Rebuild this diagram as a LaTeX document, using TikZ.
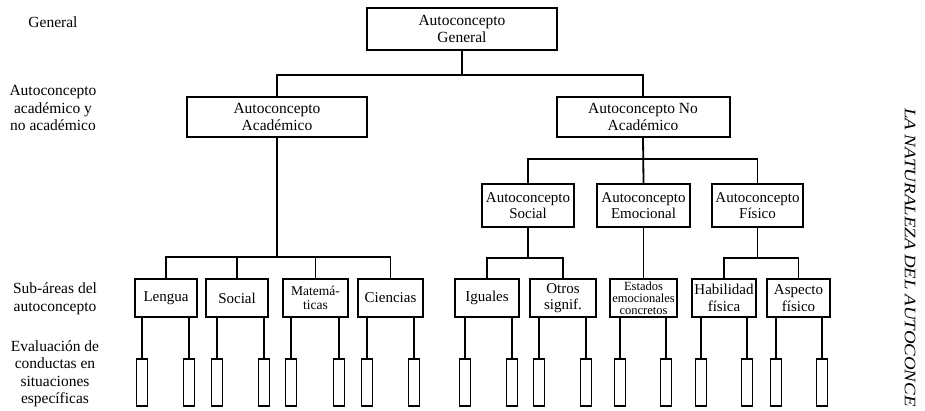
\documentclass[tikz,border=0pt]{standalone}
\usepackage{fontspec}
\setmainfont{Liberation Serif}
\usetikzlibrary{positioning}

\tikzset{
  box/.style={draw, line width=2pt, inner sep=0pt, align=center,
              font=\fontsize{15}{16.5}\selectfont},
  leaf/.style={draw, line width=1.9pt, minimum width=11pt, minimum height=47pt,
               inner sep=0pt, anchor=north},
  lab/.style={align=center, font=\fontsize{15.5}{17.5}\selectfont},
  conn/.style={line width=1.8pt}
}

\begin{document}
\begin{tikzpicture}[x=1pt, y=-1pt]
  \useasboundingbox (0,0) rectangle (925,410);
  % level labels on the left
  \node[lab] (lgen)  at (53,22)  {General};
  \node[lab] (lacad) at (53,108) {Autoconcepto\\académico y\\no académico};
  \node[lab] (lsub)  at (55,299) {Sub-áreas del\\autoconcepto};
  \node[lab] (leval) at (55,374) {Evaluación de\\conductas en\\situaciones\\específicas};

  % top and second level
  \node[box, minimum width=190pt, minimum height=42pt,
        font=\fontsize{15.5}{17}\selectfont] (gen) at (462,29) {Autoconcepto\\General};
  \node[box, minimum width=180pt, minimum height=40pt,
        font=\fontsize{15.5}{17}\selectfont] (acad) at (277,117) {Autoconcepto\\Académico};
  \node[box, minimum width=173pt, minimum height=40pt,
        font=\fontsize{15.5}{17}\selectfont] (noacad) at (643,117) {Autoconcepto No\\Académico};

  % non-academic areas
  \node[box, minimum width=92pt, minimum height=43pt] (soc) at (528,205.5) {Autoconcepto\\Social};
  \node[box, minimum width=93pt, minimum height=43pt] (emo) at (643.5,205.5) {Autoconcepto\\Emocional};
  \node[box, minimum width=91pt, minimum height=43pt] (fis) at (757.5,205.5) {Autoconcepto\\Físico};

  % sub-areas
  \node[box, minimum width=62pt, minimum height=38pt] (leng)  at (166,298) {Lengua};
  \node[box, minimum width=62pt, minimum height=38pt] (socac) at (237,298) {Social};
  \node[box, minimum width=65pt, minimum height=38pt,
        font=\fontsize{13.5}{14.5}\selectfont] (mate) at (315.5,298) {Matemá-\\ticas};
  \node[box, minimum width=65pt, minimum height=38pt] (cien)  at (390.5,298) {Ciencias};
  \node[box, minimum width=64pt, minimum height=38pt] (igu)   at (487,298) {Iguales};
  \node[box, minimum width=66pt, minimum height=38pt] (otros) at (563,298) {Otros\\signif.};
  \node[box, minimum width=67pt, minimum height=38pt,
        font=\fontsize{12.5}{12}\selectfont] (est) at (643.5,298) {Estados\\emocionales\\concretos};
  \node[box, minimum width=64pt, minimum height=38pt] (hab)   at (724,298) {Habilidad\\física};
  \node[box, minimum width=63pt, minimum height=38pt] (asp)   at (798.5,298) {Aspecto\\físico};

  % bus lines
  \coordinate (bus1) at (0,75);
  \coordinate (bus2) at (0,159);
  \coordinate (bus3) at (0,257);
  \coordinate (bus4) at (0,258);

  \draw[conn] (gen.south) -- (gen.south |- bus1);
  \draw[conn] (acad.north) |- (gen.south |- bus1) -| (noacad.north);

  \draw[conn] (acad.south) -- (acad.south |- bus3);
  \draw[conn] (leng.north) |- (acad.south |- bus3) -| (cien.north);
  \draw[conn] (socac.north) -- (socac.north |- bus3);
  \draw[conn] (mate.north) -- (mate.north |- bus3);

  \draw[conn] (noacad.south) -- (emo.north);
  \draw[conn] (soc.north) |- (emo.north |- bus2) -| (fis.north);

  \draw[conn] (soc.south) -- (soc.south |- bus4);
  \draw[conn] (igu.north) |- (soc.south |- bus4) -| (otros.north);
  \draw[conn] (emo.south) -- (est.north);
  \draw[conn] (fis.south) -- (fis.south |- bus4);
  \draw[conn] (hab.north) |- (fis.south |- bus4) -| (asp.north);

  % specific behaviours
  \foreach \p/\a/\b in {leng/142/189, socac/217/264, mate/291/339, cien/367/414,
                        igu/465/512, otros/539/586, est/620/666, hab/701/747, asp/776/822} {
    \node[leaf] (\p-l) at (\a,358) {};
    \node[leaf] (\p-r) at (\b,358) {};
    \draw[conn] (\p-l.north |- \p.south) -- (\p-l.north);
    \draw[conn] (\p-r.north |- \p.south) -- (\p-r.north);
  }

  % running head
  \node[anchor=west, rotate=-90, inner sep=0pt,
        font=\itshape\fontsize{16}{18}\selectfont] (head) at (910,108)
        {\scalebox{1.18}[1]{LA NATURALEZA DEL AUTOCONCE}};
\end{tikzpicture}
\end{document}
